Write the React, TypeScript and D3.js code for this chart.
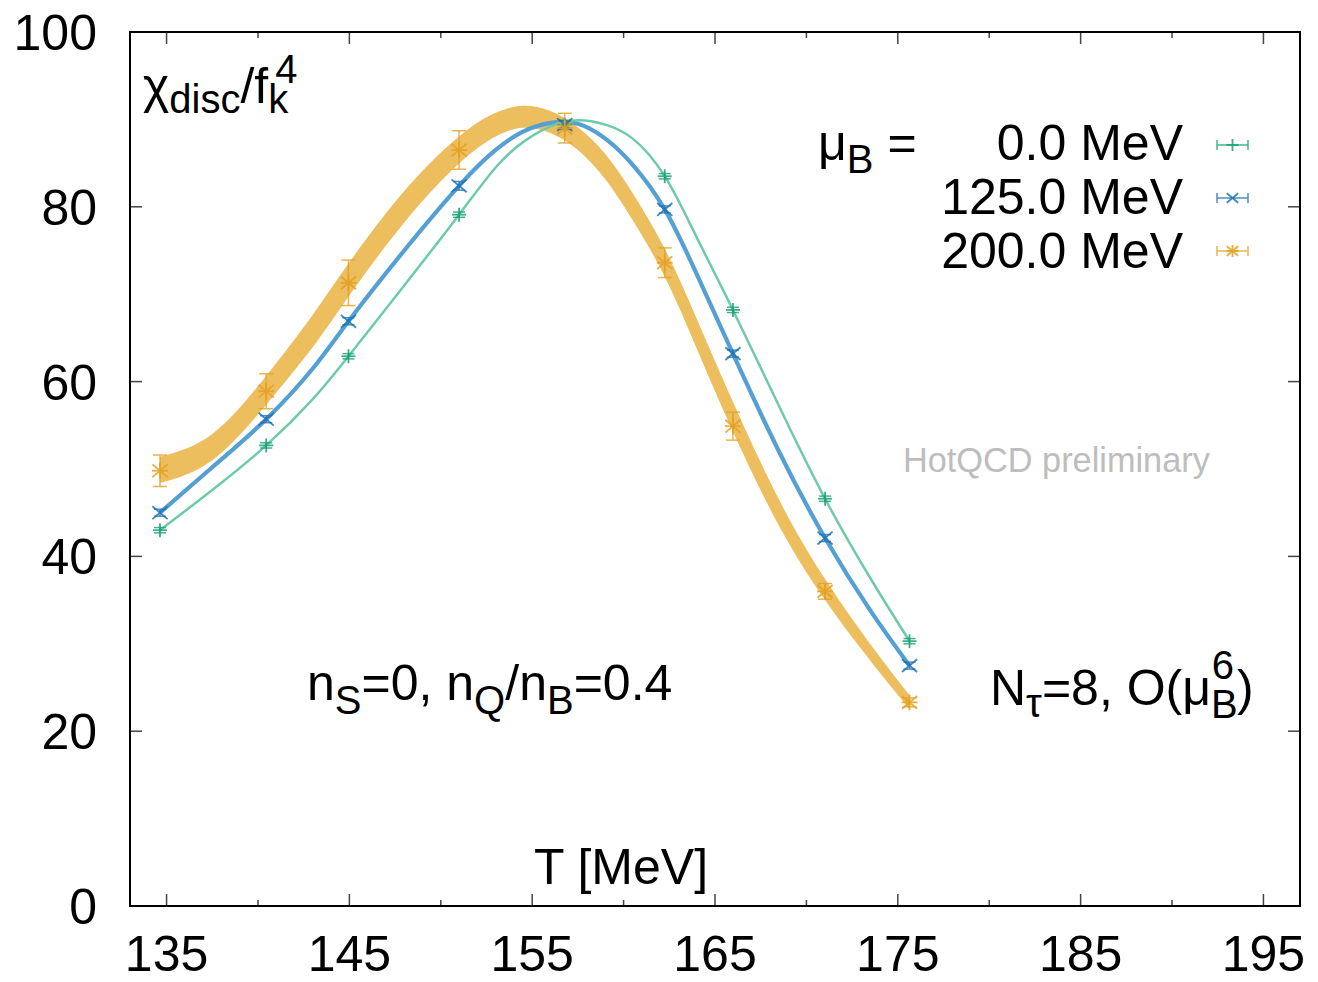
import React from "react";
import * as d3 from "d3";

// ---- data ----
const temps = [134.64, 140.45, 144.95, 151.0, 156.78, 162.25, 165.98, 171.02, 175.64];
const chiMu0 = [43.0, 52.7, 62.9, 79.1, 89.4, 83.5, 68.2, 46.6, 30.3];
const errMu0 = [0.3, 0.3, 0.3, 0.3, 0.4, 0.3, 0.3, 0.3, 0.3];
const chiMu125 = [45.0, 55.7, 66.9, 82.4, 89.4, 79.7, 63.2, 42.1, 27.5];
const errMu125 = [0.4, 0.4, 0.4, 0.5, 0.5, 0.4, 0.4, 0.4, 0.4];
const chiMu200 = [49.8, 58.9, 71.3, 86.5, 89.0, 73.6, 54.9, 36.0, 23.3];
const errMu200 = [1.8, 2.0, 2.6, 2.2, 1.7, 1.7, 1.6, 0.9, 0.5];

// fit curves
const fitT = [134.64, 137.5, 140.45, 143, 144.95, 148, 151, 153, 154.5, 156, 157.5, 159, 160.5, 162.25, 164, 165.98, 168.5, 171.02, 173.5, 175.64];
const fitMu0 = [43.0, 47.6, 52.7, 58.0, 62.9, 71.0, 79.1, 84.5, 87.4, 89.2, 89.9, 89.4, 87.8, 83.5, 76.5, 68.2, 57.2, 46.6, 37.5, 30.3];
const fitMu125 = [45.0, 50.2, 55.7, 61.5, 66.9, 75.0, 82.4, 86.5, 88.6, 89.6, 89.5, 87.8, 84.8, 79.7, 72.3, 63.2, 52.0, 42.1, 33.8, 27.5];
const fitMu200 = [49.9, 52.5, 59.0, 65.8, 71.6, 80.0, 86.5, 89.4, 90.3, 89.7, 87.8, 84.6, 80.0, 73.6, 65.5, 56.0, 45.0, 36.2, 29.0, 23.3];
const bandMu200 = [1.5, 1.5, 1.65, 1.85, 1.9, 1.8, 1.55, 1.35, 1.25, 1.25, 1.3, 1.45, 1.55, 1.6, 1.7, 1.7, 1.5, 1.2, 0.95, 0.8];

const xTicks = [135, 145, 155, 165, 175, 185, 195];
const xMinorTicks = [140, 150, 160, 170, 180, 190];
const yTicks = [0, 20, 40, 60, 80, 100];
const legendLabels = ["0.0 MeV", "125.0 MeV", "200.0 MeV"];

const FONT = "'Liberation Sans', Arial, Helvetica, sans-serif";
const L = 130, R = 1300, TOP = 32, BOT = 906;

const x = d3.scaleLinear().domain([133, 197]).range([L, R]);
const y = d3.scaleLinear().domain([0, 100]).range([BOT, TOP]);

const cGreen = "#17a075";
const cBlue = "#1f74b6";
const cOrange = "#e6a022";

type Kind = "plus" | "cross" | "star";

function Marker({ cx, cy, kind, color, s = 7.5 }: { cx: number; cy: number; kind: Kind; color: string; s?: number }) {
  const parts: JSX.Element[] = [];
  if (kind === "plus" || kind === "star") {
    parts.push(<line key="h" x1={cx - s} x2={cx + s} y1={cy} y2={cy} />);
    parts.push(<line key="v" x1={cx} x2={cx} y1={cy - s} y2={cy + s} />);
  }
  if (kind === "cross" || kind === "star") {
    const a = s * 0.95, b = s * 0.8;
    parts.push(<line key="d1" x1={cx - a} x2={cx + a} y1={cy - b} y2={cy + b} />);
    parts.push(<line key="d2" x1={cx - a} x2={cx + a} y1={cy + b} y2={cy - b} />);
  }
  return <g stroke={color} strokeWidth={1.8} opacity={0.85}>{parts}</g>;
}

function Series({ vals, errs, kind, color, cap }: { vals: number[]; errs: number[]; kind: Kind; color: string; cap: number }) {
  return (
    <g>
      {temps.map((t, i) => {
        const cx = x(t);
        const y0 = y(vals[i] - errs[i]);
        const y1 = y(vals[i] + errs[i]);
        return (
          <g key={i}>
            <g stroke={color} strokeWidth={1.5} opacity={0.8}>
              <line x1={cx} x2={cx} y1={y0} y2={y1} />
              <line x1={cx - cap} x2={cx + cap} y1={y0} y2={y0} />
              <line x1={cx - cap} x2={cx + cap} y1={y1} y2={y1} />
            </g>
            <Marker cx={cx} cy={y(vals[i])} kind={kind} color={color} s={kind === "plus" ? 7 : 8} />
          </g>
        );
      })}
    </g>
  );
}

export default function App() {
  const line = d3
    .line<number>()
    .x((_, i) => x(fitT[i]))
    .y((d) => y(d))
    .curve(d3.curveNatural);
  const area = d3
    .area<number>()
    .x((_, i) => x(fitT[i]))
    .y0((d, i) => y(d - bandMu200[i]))
    .y1((d, i) => y(d + bandMu200[i]))
    .curve(d3.curveNatural);

  const legendY = [145, 198, 251];
  const legendBase = [160, 214, 268];
  const legendKinds: Kind[] = ["plus", "cross", "star"];
  const legendColors = [cGreen, cBlue, cOrange];

  return (
    <svg width={1318} height={982} style={{ position: "absolute", left: 0, top: 0, background: "#fff" }} fontFamily={FONT}>
      <rect x={0} y={0} width={1318} height={982} fill="#fff" />

      {/* fit bands */}
      <path d={area(fitMu200) || ""} fill="#ecbe5e" stroke="none" />
      <path d={line(fitMu125) || ""} fill="none" stroke="#54a0d4" strokeWidth={4.2} />
      <path d={line(fitMu0) || ""} fill="none" stroke="#6fcaa9" strokeWidth={2.5} />

      {/* data points */}
      <Series vals={chiMu0} errs={errMu0} kind="plus" color={cGreen} cap={6} />
      <Series vals={chiMu125} errs={errMu125} kind="cross" color={cBlue} cap={6} />
      <Series vals={chiMu200} errs={errMu200} kind="star" color={cOrange} cap={7} />

      {/* ticks */}
      <g stroke="#444" strokeWidth={1.5}>
        {xTicks.map((t) => (
          <g key={"xt" + t}>
            <line x1={x(t)} x2={x(t)} y1={BOT} y2={BOT - 12} />
            <line x1={x(t)} x2={x(t)} y1={TOP} y2={TOP + 12} />
          </g>
        ))}
        {xMinorTicks.map((t) => (
          <g key={"xm" + t}>
            <line x1={x(t)} x2={x(t)} y1={BOT} y2={BOT - 6} />
            <line x1={x(t)} x2={x(t)} y1={TOP} y2={TOP + 6} />
          </g>
        ))}
        {yTicks.map((t) => (
          <g key={"yt" + t}>
            <line x1={L} x2={L + 12} y1={y(t)} y2={y(t)} />
            <line x1={R} x2={R - 12} y1={y(t)} y2={y(t)} />
          </g>
        ))}
      </g>
      <rect x={L} y={TOP} width={R - L} height={BOT - TOP} fill="none" stroke="#000" strokeWidth={2} />

      {/* tick labels */}
      <g fontSize={50} fill="#000">
        {xTicks.map((t) => (
          <text key={"xl" + t} x={x(t)} y={971} textAnchor="middle">{t}</text>
        ))}
        {yTicks.map((t) => (
          <text key={"yl" + t} x={97} y={y(t) + 18} textAnchor="end">{t}</text>
        ))}
      </g>

      {/* axis labels */}
      <text x={143} y={103} fontSize={50}>
        χ<tspan dy={10} fontSize={40}>disc</tspan>
        <tspan dy={-10} fontSize={50}>/f</tspan>
        <tspan dy={10} fontSize={40}>k</tspan>
        <tspan dx={-13} dy={-30} fontSize={40}>4</tspan>
      </text>
      <text x={621} y={884} fontSize={50} textAnchor="middle">T [MeV]</text>

      {/* legend */}
      <text x={818} y={160} fontSize={50}>
        μ<tspan dy={13} fontSize={40}>B</tspan>
        <tspan dy={-13} fontSize={50}> =</tspan>
      </text>
      {legendLabels.map((lab, i) => (
        <g key={"lg" + i}>
          <text x={1183} y={legendBase[i]} fontSize={50} textAnchor="end">{lab}</text>
          <g stroke={legendColors[i]} strokeWidth={1.5} opacity={0.8}>
            <line x1={1217} x2={1248} y1={legendY[i]} y2={legendY[i]} />
            <line x1={1217} x2={1217} y1={legendY[i] - 5} y2={legendY[i] + 5} />
            <line x1={1248} x2={1248} y1={legendY[i] - 5} y2={legendY[i] + 5} />
          </g>
          <Marker cx={1232.5} cy={legendY[i]} kind={legendKinds[i]} color={legendColors[i]} s={6} />
        </g>
      ))}

      {/* annotations */}
      <text x={903} y={472} fontSize={34.3} fill="#bdbdbd">HotQCD preliminary</text>
      <text x={307} y={700} fontSize={50}>
        n<tspan dy={14} fontSize={40}>S</tspan>
        <tspan dy={-14} fontSize={50}>=0, n</tspan>
        <tspan dy={14} fontSize={40}>Q</tspan>
        <tspan dy={-14} fontSize={50}>/n</tspan>
        <tspan dy={14} fontSize={40}>B</tspan>
        <tspan dy={-14} fontSize={50}>=0.4</tspan>
      </text>
      <text x={990} y={705} fontSize={50}>
        N<tspan dy={12} fontSize={40}>τ</tspan>
        <tspan dy={-12} fontSize={50}>=8, O(μ</tspan>
        <tspan dy={13} fontSize={40}>B</tspan>
        <tspan dx={-26} dy={-39} fontSize={40}>6</tspan>
        <tspan dx={3} dy={26} fontSize={50}>)</tspan>
      </text>
    </svg>
  );
}
